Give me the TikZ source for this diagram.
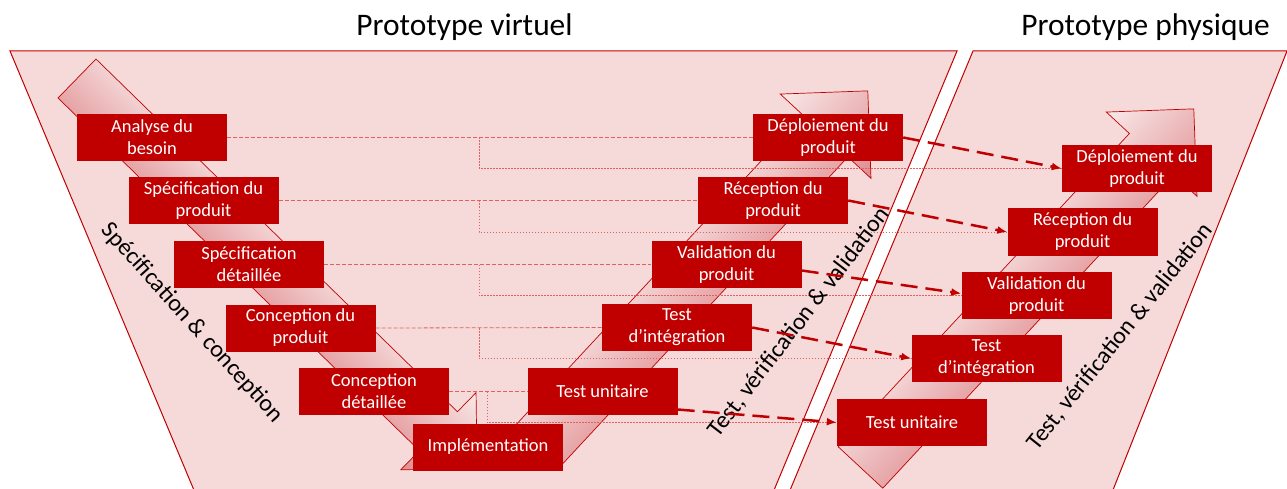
\documentclass[tikz,border=0pt]{standalone}
\usepackage{fontspec}
\setmainfont{Carlito}
\usetikzlibrary{arrows.meta}

\definecolor{vred}{RGB}{192,0,0}
\definecolor{vbg}{RGB}{246,218,218}
\definecolor{vlight}{RGB}{249,233,233}
\definecolor{vdark}{RGB}{224,140,143}
\definecolor{vline}{RGB}{226,96,96}

\tikzset{
  stage/.style={fill=vred, text=white, minimum width=150pt, minimum height=47pt,
    inner sep=0pt, align=center, font=\fontsize{18.5}{22}\selectfont},
  zone/.style={fill=vbg, draw=vred, line width=1pt},
  vband/.style={draw=vred, line width=0.7pt, top color=vlight, bottom color=vdark},
  levelline/.style={draw=vline, line width=0.8pt, dash pattern=on 4pt off 2pt},
  elbowline/.style={draw=vline, line width=0.8pt, dash pattern=on 1.5pt off 1.5pt},
  transfer/.style={draw=vred, line width=2.5pt, dash pattern=on 17pt off 8pt,
    -{Latex[length=10pt,width=8pt]}},
  phase/.style={font=\fontsize{24}{28}\selectfont},
  title/.style={font=\fontsize{31.4}{36}\selectfont, anchor=base}
}

\begin{document}
\begin{tikzpicture}[x=1pt, y=-1pt]
    % Page frame (pixel units, y downwards)
    \useasboundingbox (0,0) rectangle (1287,489);
    \clip (0,0) rectangle (1287,489);

    % Titles
    \node[title] (tvirt) at (464.5,36) {Prototype virtuel};
    \node[title] (tphys) at (1145.5,36) {Prototype physique};

    % The two zones
    \draw[zone] (10,51) -- (957,51) -- (772,495) -- (196,495) -- cycle;
    \draw[zone] (973,51) -- (1287,51) -- (1111,495) -- (788,495) -- cycle;

    % Descending branch
    \begin{scope}[transform canvas={shift={(77,78.5)}, rotate=-44.3}]
      \shade[vband] (0,-27.2) -- (505,-27.2) -- (505,-53.9) -- (559,0)
        -- (505,53.9) -- (505,27.2) -- (0,27.2) -- cycle;
    \end{scope}
    % Ascending branch, virtual
    \begin{scope}[transform canvas={shift={(534.5,449.5)}, rotate=47.1}]
      \shade[vband] (0,-30.4) -- (427.7,-30.4) -- (427.7,-61.9) -- (489.6,0)
        -- (427.7,61.9) -- (427.7,30.4) -- (0,30.4) -- cycle;
    \end{scope}
    % Ascending branch, physical
    \begin{scope}[transform canvas={shift={(860.5,467.5)}, rotate=47.1}]
      \shade[vband] (0,-30.4) -- (427.7,-30.4) -- (427.7,-61.9) -- (489.6,0)
        -- (427.7,61.9) -- (427.7,30.4) -- (0,30.4) -- cycle;
    \end{scope}

    % Left branch
    \node[stage] (ana)   at (152,137.5)   {Analyse du\\besoin};
    \node[stage] (specp) at (203.5,200.5) {Spécification du\\produit};
    \node[stage] (specd) at (249,264.5)   {Spécification\\détaillée};
    \node[stage] (concp) at (300.5,328)   {Conception du\\produit};
    \node[stage] (concd) at (374,391.5)   {Conception\\détaillée};
    \node[stage] (impl)  at (488,447)     {Implémentation};

    % Right branch, virtual
    \node[stage] (tu)  at (602.5,391.5) {Test unitaire};
    \node[stage] (ti)  at (677,327.5)   {Test\\d’intégration};
    \node[stage] (val) at (726.5,264.5) {Validation du\\produit};
    \node[stage] (rec) at (773,200.5)   {Réception du\\produit};
    \node[stage] (dep) at (828,137.5)   {Déploiement du\\produit};

    % Right branch, physical
    \node[stage] (ptu)  at (912,422.5)   {Test unitaire};
    \node[stage] (pti)  at (986.5,358.5) {Test\\d’intégration};
    \node[stage] (pval) at (1036.5,295.5) {Validation du\\produit};
    \node[stage] (prec) at (1082.5,232)  {Réception du\\produit};
    \node[stage] (pdep) at (1137,168.5)  {Déploiement du\\produit};

    % Level lines
    \draw[levelline] (ana.east) -- (dep.west);
    \draw[levelline] (specp.east) -- (rec.west);
    \draw[levelline] (specd.east) -- (val.west);
    \draw[levelline] (concp.east) -- (ti.west);
    \draw[levelline] (concd.east) -- (tu.west);

    \coordinate (elb) at (479,0);
    \coordinate (elbb) at (487,0);
    \draw[elbowline] (ana.east -| elb) |- (pdep.west);
    \draw[elbowline] (specp.east -| elb) |- (prec.west);
    \draw[elbowline] (specd.east -| elb) |- (pval.west);
    \draw[elbowline] (concp.east -| elb) |- (pti.west);
    \draw[elbowline] (concd.east -| elbb) |- (ptu.west);

    % Phase labels
    \node[phase, rotate=-48] (lspec) at (192,323) {Spécification \& conception};
    \node[phase, rotate=52.5] (ltestv) at (799,322.5) {Test, vérification \& validation};
    \node[phase, rotate=51.4] (ltestp) at (1120,336.7) {Test, vérification \& validation};

    % Virtual to physical
    \draw[transfer] (dep.east) -- (pdep.west);
    \draw[transfer] (rec.east) -- (prec.west);
    \draw[transfer] ([yshift=-6pt]val.east) -- ([yshift=2pt]pval.west);
    \draw[transfer] (ti.east) -- (pti.west);
    \draw[transfer] ([yshift=-18pt]tu.east) -- (ptu.west);
\end{tikzpicture}
\end{document}
